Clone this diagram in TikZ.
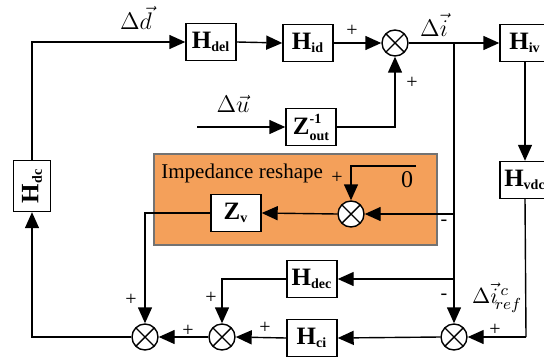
\documentclass[tikz,border=0pt]{standalone}
\usepackage{fontspec}
\setmainfont{Liberation Serif}
\usetikzlibrary{arrows.meta}
\definecolor{reshapeorange}{RGB}{244,160,90}
\tikzset{
  blk/.style={draw, fill=white, line width=0.7pt, minimum width=25pt, minimum height=18.5pt, inner sep=1pt, font=\fontsize{12.5}{14}\selectfont\bfseries},
  sumnode/.style={circle, draw, fill=white, line width=0.7pt, minimum size=13pt, inner sep=0pt,
    path picture={\draw[line width=0.7pt] (path picture bounding box.north west) -- (path picture bounding box.south east)
      (path picture bounding box.north east) -- (path picture bounding box.south west);}},
  conn/.style={line width=0.7pt, -{Triangle[length=8pt,width=7pt]}},
  wire/.style={line width=0.7pt},
  sgn/.style={font=\fontsize{10}{11}\selectfont, inner sep=0pt},
  sig/.style={font=\fontsize{12}{14}\selectfont, inner sep=0pt}
}
\newcommand{\sbf}[1]{\textsubscript{\fontsize{7}{8}\selectfont\bfseries #1}}
\newcommand{\supsub}[2]{\makebox[0pt][l]{\raisebox{5.5pt}{\fontsize{7}{8}\selectfont\bfseries #1}}\raisebox{-3pt}{\fontsize{7}{8}\selectfont\bfseries #2}}
\begin{document}
\begin{tikzpicture}[x=0.5pt, y=-0.5pt]
  \useasboundingbox (0,0) rectangle (544,358);
  % Impedance reshape region
  \draw[fill=reshapeorange, draw=black!55, line width=0.7pt] (154,154) rectangle (437,245);
  \node[anchor=west, font=\fontsize{10.5}{12}\selectfont, inner sep=0pt] (reshapetxt) at (161,173) {Impedance reshape};
  % Blocks
  \node[blk] (hdel) at (211,42) {H\sbf{del}};
  \node[blk] (hid) at (308,43) {H\sbf{id}};
  \node[blk] (hiv) at (525,43) {H\sbf{iv}};
  \node[blk] (hvdc) at (525,180) {H\sbf{vdc}};
  \node[blk] (zout) at (311,127) {Z\supsub{-1}{out}};
  \node[blk] (zv) at (236,213) {Z\sbf{v}};
  \node[blk] (hdec) at (312,279) {H\sbf{dec}};
  \node[blk] (hci) at (312,338) {H\sbf{ci}};
  \node[blk, rotate=90, minimum width=25.5pt] (hdc) at (32,186) {H\textsubscript{\fontsize{7}{8}\selectfont dc}};
  % Summing junctions
  \node[sumnode] (sumt) at (395,43) {};
  \node[sumnode] (sumi) at (351,214) {};
  \node[sumnode] (suml) at (145,337) {};
  \node[sumnode] (summ) at (222,337) {};
  \node[sumnode] (sumr) at (454,337) {};
  % Free ends
  \coordinate (uin) at (197,127);
  \coordinate (zeroin) at (416,166);
  \coordinate (jct) at (454,43);
  \coordinate (vdcturn) at (526,337);
  % Forward path
  \draw[conn] (hdc.east) |- (hdel.west);
  \draw[conn] (hdel.east) -- (hid.west);
  \draw[conn] (hid.east) -- (sumt.west);
  \draw[conn] (uin) -- (zout.west);
  \draw[conn] (zout.east) -| (sumt.south);
  \draw[wire] (sumt.east) -- (jct);
  \draw[conn] (jct) -- (hiv.west);
  \draw[conn] (hiv.south) -- (hvdc.north);
  \draw[wire] (hvdc.south) -- (vdcturn);
  \draw[conn] (vdcturn) -- (sumr.east);
  % Feedback paths
  \draw[conn] (jct) -- (sumr.north);
  \draw[conn] (jct |- sumi) -- (sumi.east);
  \draw[conn] (jct |- hdec) -- (hdec.east);
  \draw[conn] (zeroin) -| (sumi.north);
  \draw[conn] (sumi.west) -- (zv.east);
  \draw[conn] (zv.west) -| (suml.north);
  \draw[conn] (hdec.west) -| (summ.north);
  \draw[conn] (sumr.west) -- (hci.east);
  \draw[conn] (hci.west) -- (summ.east);
  \draw[conn] (summ.west) -- (suml.east);
  \draw[conn] (suml.west) -| (hdc.west);
  % Signal labels
  \node[sig] (dd) at (136,18) {$\Delta\vec{d}$};
  \node[sig] (du) at (233,104) {$\Delta\vec{u}$};
  \node[sig] (di) at (434,25) {$\Delta\vec{i}$};
  \node[sig, font=\fontsize{11}{13}\selectfont] (diref) at (497,298) {$\Delta\vec{i}^{\,c}_{\!ref}$};
  \node[sig] (zero) at (407,180) {0};
  % Signs
  \node[sgn] (p1) at (352,31) {+};
  \node[sgn] (p2) at (412,83) {+};
  \node[sgn] (p3) at (337,178) {+};
  \node[sgn] (m1) at (444,223) {-};
  \node[sgn] (m2) at (444,297) {-};
  \node[sgn] (p4) at (495,330) {+};
  \node[sgn] (p5) at (265,328) {+};
  \node[sgn] (p6) at (188,331) {+};
  \node[sgn] (p7) at (211,298) {+};
  \node[sgn] (p8) at (131,300) {+};
\end{tikzpicture}
\end{document}
